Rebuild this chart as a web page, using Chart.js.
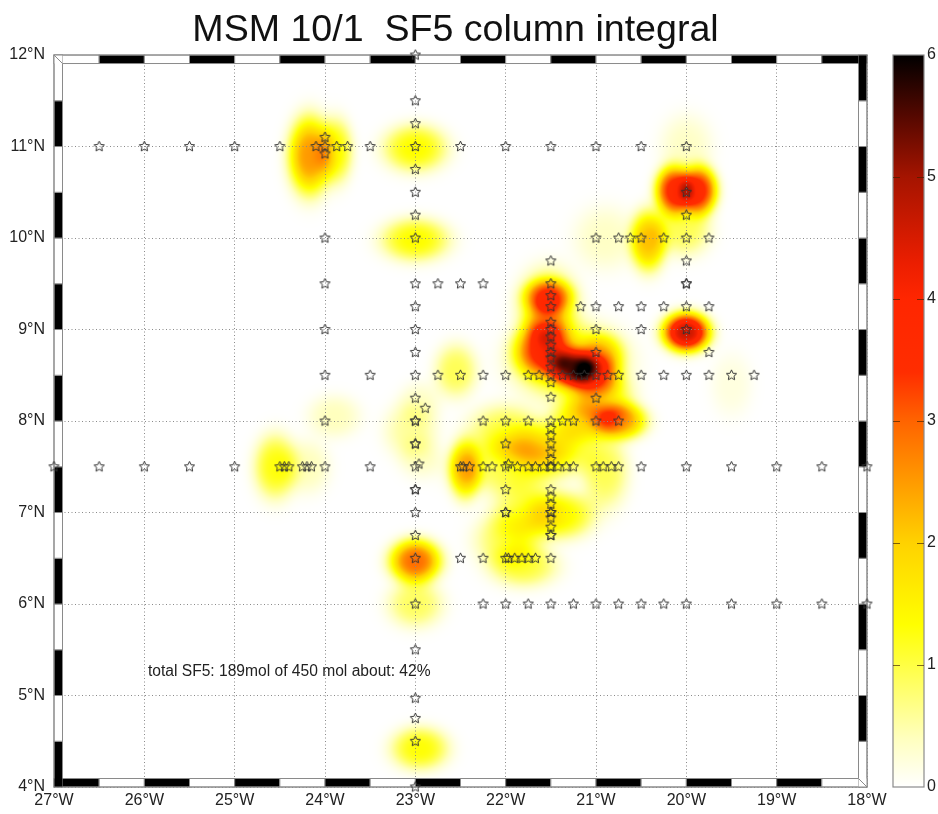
<!DOCTYPE html>
<html><head><meta charset="utf-8">
<style>html,body{margin:0;padding:0;background:#fff}#w{width:938px;height:814px;position:relative}</style>
<script src="https://cdn.jsdelivr.net/npm/chart.js@4"></script>
</head><body><div id="w"><canvas id="c" width="938" height="814"></canvas></div>
<script>
const titleText = 'MSM 10/1  SF5 column integral';
const noteText = 'total SF5: 189mol of 450 mol about: 42%';
const noteLon = -25.96, noteLat = 5.26;
const lonLabels = ['27°W','26°W','25°W','24°W','23°W','22°W','21°W','20°W','19°W','18°W'];
const latLabels = ['4°N','5°N','6°N','7°N','8°N','9°N','10°N','11°N','12°N'];
const barLabels = ['0','1','2','3','4','5','6'];
// station positions
const starLon = [
 -26.5,-26,-25.5,-25,-24.5,-24.1,-24,-23.87,-23.75,-23.5,-23,-22.5,-22,-21.5,-21,-20.5,-20,-24,-24,
 -23,-23,-23,-23,-23,-23,-23,-20,-20,-20,-21,-20.75,-20.62,-20.5,-20.25,-20,-19.75,-24,-20,
 -24,-23,-22.75,-22.5,-22.25,-21.5,-20,-21.5,
 -23,-21.17,-21,-20.75,-20.5,-20.25,-20,-19.75,-21.5,-21.5,
 -24,-23,-21.5,-21,-20.5,-20,-21.5,-21.5,-21.5,-23,-21.5,-21,-19.75,-21.5,-21.5,
 -24,-23.5,-23,-22.75,-22.5,-22.25,-22,-21.75,-21.63,-21.5,-21.37,-21.25,-21.13,-21,-20.87,-20.75,-20.5,-20.25,-20,-19.75,-19.5,-19.25,
 -21.5,-23,-21.5,-21,-22.89,
 -24,-23,-22.25,-22,-21.75,-21.5,-21.37,-21.25,-21,-20.75,
 -21.5,-21.5,-21.5,-23,-22,-21.5,-21.5,-21.5,
 -27,-26.5,-26,-25.5,-25,-24.5,-24.45,-24.4,-24.25,-24.2,-24.15,-24,-23.5,-23,-22.96,-22.5,-22.47,-22.4,-22.25,-22.15,-22,-21.97,-21.87,-21.75,-21.67,-21.58,-21.5,-21.42,-21.33,-21.25,-21,-20.92,-20.83,-20.75,-20.5,-20,-19.5,-19,-18.5,-18,
 -21.5,-21.5,-21.5,-23,-22,-22,-21.5,-21.5,-21.5,-21.5,-21.5,-23,-22,-21.5,
 -23,-22.5,-22.25,-22,-21.97,-21.9,-21.82,-21.75,-21.67,-21.5,
 -23,-22.25,-22,-21.75,-21.5,-21.25,-21,-20.75,-20.5,-20.25,-20,-19.5,-19,-18.5,-18,
 -23,-23,-23,-23,-23,-23,-23,-23,-23
];
const starLat = [
 11,11,11,11,11,11,11,11,11,11,11,11,11,11,11,11,11,11.1,10.92,
 12,11.5,11.25,10.75,10.5,10.25,10,10.5,10.25,10,10,10,10,10,10,9.75,10,10,9.5,
 9.5,9.5,9.5,9.5,9.5,9.5,9.5,9.75,
 9.25,9.25,9.25,9.25,9.25,9.25,9.25,9.25,9.25,9.37,
 9,9,9,9,9,9,9.08,8.92,8.83,8.75,8.75,8.75,8.75,8.69,8.59,
 8.5,8.5,8.5,8.5,8.5,8.5,8.5,8.5,8.5,8.5,8.5,8.5,8.5,8.5,8.5,8.5,8.5,8.5,8.5,8.5,8.5,8.5,
 8.42,8.25,8.26,8.25,8.14,
 8,8,8,8,8,8,8,8,8,8,
 7.92,7.84,7.75,7.75,7.75,7.66,7.58,7.5,
 7.5,7.5,7.5,7.5,7.5,7.5,7.5,7.5,7.5,7.5,7.5,7.5,7.5,7.5,7.53,7.5,7.5,7.5,7.5,7.5,7.5,7.53,7.5,7.5,7.5,7.5,7.5,7.5,7.5,7.5,7.5,7.5,7.5,7.5,7.5,7.5,7.5,7.5,7.5,7.5,
 7.25,7.17,7.09,7.25,7.25,7,7,6.94,6.84,6.75,6.75,7,7,7,
 6.5,6.5,6.5,6.5,6.5,6.5,6.5,6.5,6.5,6.5,
 6,6,6,6,6,6,6,6,6,6,6,6,6,6,6,
 7.75,6.75,5.5,4.97,4.75,4.5,4,7.25,8
];
// concentration patches
const blobLon  = [-24.17,-23.88,-23,-23,-20.14,-19.86,-20,-20.42,-20.02,-20.9,-20,-21.53,-21.25,-21.6,-21.55,-21,-20.93,-20.72,-21.15,-20.95,-22,-21.6,-22.45,-22,-21.5,-20.9,-21.4,-21.8,-22,-21.8,-24.55,-24.2,-23,-23,-23.05,-23.9,-22.55,-22.95,-22.95,-19.5,-22.95,-21.3,-21.53];
const blobLat  = [10.9,10.95,10.98,9.98,10.52,10.52,11,9.97,10.1,10,8.97,9.36,8.58,8.78,9.08,8.5,8.72,8,8,8.25,7.9,7.75,7.47,7.5,7.6,7.45,6.97,7,6.7,6.42,7.5,7.5,6.47,6,7.9,8.05,8.55,8.2,7.6,8.4,4.42,8.65,9.25];
const blobPeak = [2.5,1.3,1.35,1.35,3.5,3.5,.35,2.1,.9,.35,4.6,2.3,3.4,2.4,1,1.4,1.2,2.3,1.5,1.3,.95,1,1.9,.9,.8,.9,1.4,.9,.8,1,1.25,.4,2.9,.85,.55,.4,.9,.3,.3,.2,1.3,1.6,1.3];
const blobRx   = [.2,.16,.3,.32,.17,.17,.25,.17,.25,.3,.22,.22,.22,.26,.2,.22,.2,.24,.3,.3,.35,.4,.15,.5,.4,.22,.32,.3,.3,.32,.2,.22,.24,.26,.25,.25,.2,.2,.2,.2,.27,.5,.28];
const blobRy   = [.36,.3,.22,.2,.22,.22,.3,.28,.25,.3,.18,.16,.17,.24,.2,.2,.2,.17,.2,.25,.24,.2,.27,.25,.2,.35,.22,.3,.25,.2,.3,.25,.2,.22,.26,.2,.25,.2,.2,.3,.2,.35,.35];
const blobSpread = 1.15;
// colour bar
const barStops  = [0,0.4,1.33,2,3,3.4,4,4.3,5,5.5,6];
const barColors = [[255,255,255],[255,255,190],[255,255,0],[255,210,0],[255,100,0],[255,45,0],[255,38,0],[235,30,0],[165,20,0],[85,8,0],[0,0,0]];

function colorFor(v){
  if(v<=0) return barColors[0];
  for(let i=1;i<barStops.length;i++){
    if(v<=barStops[i]){
      const t=(v-barStops[i-1])/(barStops[i]-barStops[i-1]),a=barColors[i-1],b=barColors[i];
      return [a[0]+(b[0]-a[0])*t,a[1]+(b[1]-a[1])*t,a[2]+(b[2]-a[2])*t];
    }
  }
  return barColors[barColors.length-1];
}
const heatPlugin={id:'heat',
  afterLayout(chart){ chart.titleBlock.right=911; },
  beforeDraw(chart){
    const a=chart.chartArea,xs=chart.scales.x,ys=chart.scales.y;
    const w=Math.round(a.right-a.left),h=Math.round(a.bottom-a.top);
    const cv=document.createElement('canvas');cv.width=w;cv.height=h;
    const g=cv.getContext('2d'),img=g.createImageData(w,h),d=img.data;
    const lons=[];for(let i=0;i<w;i++)lons.push(xs.getValueForPixel(a.left+i+.5));
    const lats=[];for(let j=0;j<h;j++)lats.push(ys.getValueForPixel(a.top+j+.5));
    const field=new Float32Array(w*h);
    blobLon.forEach((lo,k)=>{
      const la=blobLat[k],p=blobPeak[k],rx=blobRx[k]*blobSpread,ry=blobRy[k]*blobSpread;
      for(let j=0;j<h;j++){
        const dy=(lats[j]-la)/ry;if(Math.abs(dy)>3)continue;
        for(let i=0;i<w;i++){
          const dx=(lons[i]-lo)/rx;if(Math.abs(dx)>3)continue;
          field[j*w+i]+=p*Math.exp(-Math.pow(dx*dx+dy*dy,1.5));
        }
      }
    });
    for(let n=0;n<w*h;n++){
      const c=colorFor(field[n]);
      d[n*4]=c[0];d[n*4+1]=c[1];d[n*4+2]=c[2];d[n*4+3]=255;
    }
    g.putImageData(img,0,0);
    chart.ctx.drawImage(cv,a.left,a.top);
  },
  beforeDatasetsDraw(chart){
    const c=chart.ctx,xs=chart.scales.x,ys=chart.scales.y;
    const L=xs.getPixelForValue(-27),R=xs.getPixelForValue(-18),T=ys.getPixelForValue(12),B=ys.getPixelForValue(4),W=8.5;
    c.save();
    c.lineWidth=1;c.strokeStyle='#8a8a8a';
    for(let i=0;i<18;i++){
      const x0=xs.getPixelForValue(-27+i*.5),x1=xs.getPixelForValue(-27+(i+1)*.5);
      c.fillStyle=i%2?'#000':'#fff';c.fillRect(x0,T,x1-x0,W);c.strokeRect(x0,T,x1-x0,W);
      c.fillStyle=i%2?'#fff':'#000';c.fillRect(x0,B-W,x1-x0,W);c.strokeRect(x0,B-W,x1-x0,W);
    }
    for(let i=0;i<16;i++){
      const y0=ys.getPixelForValue(4+i*.5),y1=ys.getPixelForValue(4+(i+1)*.5);
      c.fillStyle=i%2?'#fff':'#000';c.fillRect(L,y1,W,y0-y1);c.strokeRect(L,y1,W,y0-y1);
      c.fillStyle=i%2?'#000':'#fff';c.fillRect(R-W,y1,W,y0-y1);c.strokeRect(R-W,y1,W,y0-y1);
    }
    c.fillStyle='#000';
    c.fillRect(R-W,T,W,W);c.fillRect(L,B-W,W,W);
    c.fillStyle='#fff';
    c.fillRect(L,T,W,W);c.fillRect(R-W,B-W,W,W);
    c.beginPath();c.moveTo(L,T);c.lineTo(L+W,T+W);c.moveTo(R,B);c.lineTo(R-W,B-W);c.stroke();
    c.strokeRect(L,T,R-L,B-T);
    c.restore();
  },
  afterDatasetsDraw(chart){
    const c=chart.ctx,xs=chart.scales.x,ys=chart.scales.y,cb=chart.scales.cbar;
    c.save();
    c.fillStyle='#222';c.font='15.6px "Liberation Sans"';c.textBaseline='middle';c.textAlign='left';
    c.fillText(noteText,xs.getPixelForValue(noteLon),ys.getPixelForValue(noteLat));
    const x0=893,x1=924,y0=cb.getPixelForValue(0),y1=cb.getPixelForValue(6);
    const gr=c.createLinearGradient(0,y0,0,y1);
    barStops.forEach((s,i)=>{const k=barColors[i];gr.addColorStop(s/6,`rgb(${k[0]},${k[1]},${k[2]})`);});
    c.fillStyle=gr;c.fillRect(x0,y1,x1-x0,y0-y1);
    c.strokeStyle='#8a8a8a';c.lineWidth=1.2;c.strokeRect(x0,y1,x1-x0,y0-y1);
    c.strokeStyle='rgba(60,30,0,.65)';c.lineWidth=1;
    for(let v=1;v<6;v++){
      const y=Math.round(cb.getPixelForValue(v))+.5;
      c.beginPath();c.moveTo(x0,y);c.lineTo(x0+7,y);c.moveTo(x1-7,y);c.lineTo(x1,y);c.stroke();
    }
    c.restore();
  }
};
function starImage(){
  const s=15,cv=document.createElement('canvas');cv.width=s;cv.height=s;
  const g=cv.getContext('2d');
  g.beginPath();
  for(let i=0;i<10;i++){
    const r=i%2?2.6:5.4,a=-Math.PI/2+i*Math.PI/5;
    const x=s/2+r*Math.cos(a),y=s/2+r*Math.sin(a);
    i?g.lineTo(x,y):g.moveTo(x,y);
  }
  g.closePath();g.strokeStyle='#333';g.lineWidth=1;g.stroke();
  return cv;
}
const axisFont={family:'"Liberation Sans"',size:16};
function noPad(s){s.paddingTop=0;s.paddingBottom=0;s.paddingLeft=0;s.paddingRight=0;}
new Chart(document.getElementById('c'),{
  type:'scatter',
  data:{datasets:[{
    label:'stations',
    data:starLon.map((x,i)=>({x,y:starLat[i]})),
    pointStyle:starImage(),
    pointRadius:6,
    clip:false
  }]},
  options:{
    responsive:false,animation:false,
    layout:{padding:0},
    plugins:{
      legend:{display:false},tooltip:{enabled:false},
      title:{display:true,text:titleText,color:'#111',
        font:{family:'"Liberation Sans"',size:37.6,weight:'normal',lineHeight:1.2},
        padding:{top:8,bottom:1.9}}
    },
    scales:{
      x:{type:'linear',position:'bottom',min:-27,max:-18,
        afterFit(s){s.height=27;noPad(s);},
        border:{display:false,dash:[1,2.5]},
        grid:{color:'#8a8a8a',lineWidth:1,drawTicks:false},
        ticks:{stepSize:1,autoSkip:false,maxRotation:0,padding:4,font:axisFont,color:'#222',
          callback:(v)=>lonLabels[Math.round(v+27)]}
      },
      y:{type:'linear',position:'left',min:4,max:12,
        afterFit(s){s.width=54;noPad(s);},
        border:{display:false,dash:[1,2.5]},
        grid:{color:'#8a8a8a',lineWidth:1,drawTicks:false},
        ticks:{stepSize:1,autoSkip:false,padding:9,font:axisFont,color:'#222',
          callback:(v)=>latLabels[Math.round(v-4)]}
      },
      cbar:{type:'linear',position:'right',min:0,max:6,
        afterFit(s){s.width=71;noPad(s);},
        border:{display:false},
        grid:{display:false,drawTicks:false},
        ticks:{stepSize:1,padding:60,font:axisFont,color:'#222',
          callback:(v)=>barLabels[Math.round(v)]}
      }
    }
  },
  plugins:[heatPlugin]
});
</script>
</body></html>
